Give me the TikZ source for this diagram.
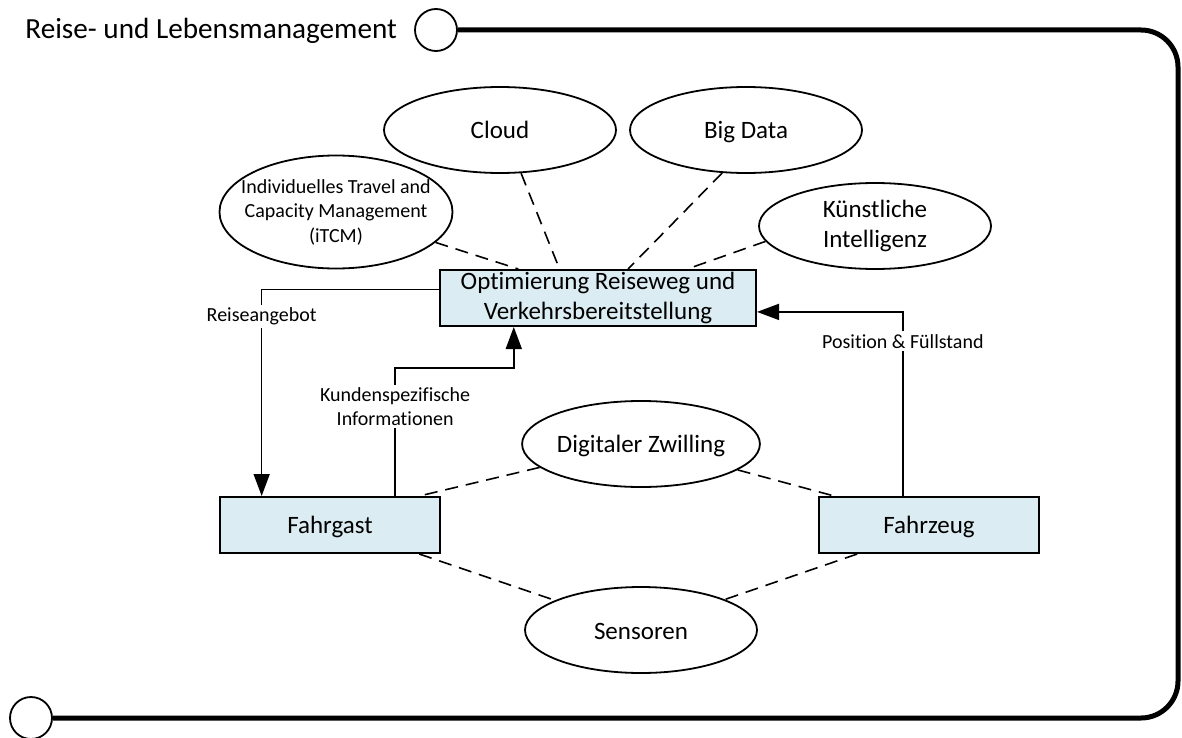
\documentclass[tikz,border=0pt]{standalone}
\usepackage{fontspec}
\setmainfont{Carlito}[Ligatures=NoCommon]
\usetikzlibrary{arrows.meta,shapes.geometric}
\definecolor{BoxBlue}{RGB}{219,236,242}
\newcommand{\capstrut}{\rule[-1.5pt]{0pt}{12pt}}
\tikzset{
  bubble/.style={
    ellipse,
    draw,
    line width=0.9pt,
    minimum width=116pt,
    minimum height=43pt,
    inner sep=0pt,
    align=center,
    font=\fontsize{12.5}{15}\selectfont,
  },
  task box/.style={
    rectangle,
    draw,
    line width=1pt,
    fill=BoxBlue,
    minimum height=28pt,
    inner sep=0pt,
    align=center,
    font=\fontsize{12.5}{15}\selectfont,
  },
  flow label/.style={
    fill=white,
    inner sep=1.5pt,
    align=center,
    font=\fontsize{10}{11.75}\selectfont,
  },
  ring/.style={
    circle,
    draw,
    line width=0.9pt,
    minimum size=21pt,
    inner sep=0pt,
  },
  link/.style={line width=0.8pt,dash pattern=on 6.5pt off 4pt},
  arrow/.style={line width=0.8pt,-{Triangle[length=11pt,width=8pt]}},
  frame/.style={line width=2.5pt},
}

\begin{document}
\begin{tikzpicture}[x=0.5pt,y=-0.5pt]

\useasboundingbox (0,0) rectangle (1182,738);

% Frame of the swimlane.
\node[font=\fontsize{14.6}{17}\selectfont,anchor=base west,inner sep=0pt] (title) at (25,39) {Reise- und Lebensmanagement};
\node[ring] (topring) at (436,30) {};
\node[ring] (botring) at (31,718) {};
\coordinate (frame ne) at (1178,30);
\coordinate (frame se) at (1178,718);
\draw[frame,rounded corners=18.5pt] (topring.east) -- (frame ne) -- (frame se) -- (botring.east);

% Technologies.
\node[bubble] (cloud) at (500,130) {\capstrut Cloud};
\node[bubble] (bigdata) at (746,130) {\capstrut Big Data};
\node[bubble] (ki) at (875,226) {Künstliche\\Intelligenz};
\node[bubble,minimum width=116.5pt,minimum height=56.5pt,inner xsep=-8pt,font=\fontsize{10}{12.25}\selectfont] (itcm) at (336,212) {Individuelles Travel and\\Capacity Management\\(iTCM)};

% Actors.
\node[task box,minimum width=158pt] (optim) at (598,298) {Optimierung Reiseweg und\\Verkehrsbereitstellung};
\node[task box,minimum width=110pt] (fahrgast) at (330,525) {\capstrut Fahrgast};
\node[task box,minimum width=110pt] (fahrzeug) at (929,525) {\capstrut Fahrzeug};
\node[bubble] (zwilling) at (641,444) {\capstrut Digitaler Zwilling};
\node[bubble] (sensoren) at (641,630) {\capstrut Sensoren};

\draw[link] (itcm.-17) -- (optim.160.7);
\draw[link] (cloud.-64) -- (optim.143.6);
\draw[link] (bigdata.-119) -- (optim.44);
\draw[link] (ki.-172.4) -- (optim.18.9);
\draw[link] (zwilling.-167) -- (fahrgast.18.2);
\draw[link] (zwilling.-15.5) -- (fahrzeug.163.9);
\draw[link] (fahrgast.-18.6) -- (sensoren.161.2);
\draw[link] (fahrzeug.-158.7) -- (sensoren.20.6);

% Information flows.
\draw[arrow] (optim.177.1) -| node[flow label,pos=0.565] {Reiseangebot} (fahrgast.157.3);
\draw[arrow] (fahrgast.24) -- ++(0,-128) node[flow label,pos=0.7] {Kundenspezifische\\Informationen} -| (optim.-161.4);
\draw[arrow] (fahrzeug.132.9) |- node[flow label,pos=0.42] {Position \& Füllstand} (optim.-5.4);

\end{tikzpicture}
\end{document}
